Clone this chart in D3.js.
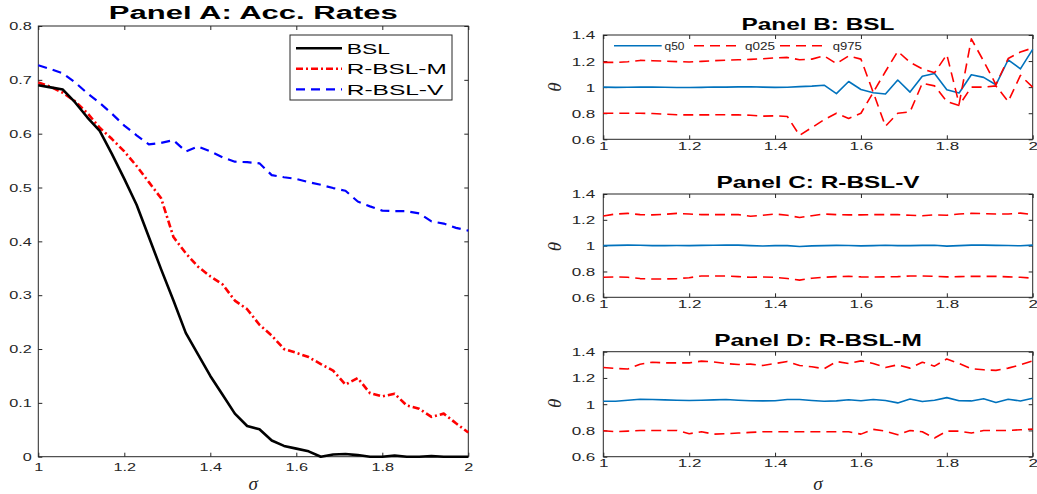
<!DOCTYPE html>
<html><head><meta charset="utf-8">
<script src="https://cdn.jsdelivr.net/npm/d3@7"></script>
<style>body{margin:0;background:#fff}svg{display:block}</style>
</head><body>
<svg id="c" width="1037" height="494"></svg>
<script>
// ---------------- data ----------------
const sigma = [1, 1.0286, 1.0571, 1.0857, 1.1143, 1.1429, 1.1714, 1.2, 1.2286, 1.2571, 1.2857, 1.3143,
  1.3429, 1.3714, 1.4, 1.4286, 1.4571, 1.4857, 1.5143, 1.5429, 1.5714, 1.6, 1.6286, 1.6571,
  1.6857, 1.7143, 1.7429, 1.7714, 1.8, 1.8286, 1.8571, 1.8857, 1.9143, 1.9429, 1.9714, 2];

// Panel A: acceptance rates
const accBSL = [0.690, 0.686, 0.682, 0.658, 0.630, 0.605, 0.562, 0.516, 0.468, 0.408, 0.348, 0.290,
  0.230, 0.190, 0.150, 0.115, 0.080, 0.057, 0.051, 0.030, 0.020, 0.015, 0.010, 0.000,
  0.004, 0.005, 0.003, 0.000, 0.000, 0.002, 0.000, 0.000, 0.001, 0.000, 0.000, 0.000];
const accRBSLM = [0.695, 0.687, 0.676, 0.660, 0.638, 0.611, 0.590, 0.567, 0.540, 0.510, 0.480, 0.408,
  0.378, 0.353, 0.335, 0.320, 0.290, 0.274, 0.245, 0.225, 0.200, 0.193, 0.185, 0.172,
  0.160, 0.134, 0.146, 0.118, 0.112, 0.117, 0.095, 0.089, 0.074, 0.080, 0.062, 0.045];
const accRBSLV = [0.727, 0.720, 0.712, 0.695, 0.675, 0.657, 0.637, 0.615, 0.597, 0.580, 0.583, 0.588,
  0.567, 0.576, 0.567, 0.556, 0.548, 0.547, 0.545, 0.523, 0.519, 0.516, 0.510, 0.505,
  0.499, 0.494, 0.474, 0.465, 0.457, 0.456, 0.456, 0.452, 0.437, 0.433, 0.425, 0.420];

// Panel B: BSL quantiles of theta
const bslQ50 = [1.000, 0.998, 0.999, 1.000, 1.000, 0.999, 0.997, 0.997, 0.998, 1.001, 1.000, 1.002,
  1.003, 1.000, 0.998, 0.999, 1.004, 1.008, 1.015, 0.950, 1.043, 0.982, 0.957, 0.947,
  1.055, 0.962, 1.083, 1.105, 0.980, 0.955, 1.095, 1.075, 1.018, 1.210, 1.140, 1.290];
const bslQ025 = [0.800, 0.800, 0.800, 0.800, 0.798, 0.793, 0.788, 0.787, 0.787, 0.788, 0.788, 0.787,
  0.785, 0.778, 0.780, 0.775, 0.630, 0.690, 0.750, 0.800, 0.760, 0.800, 0.960, 1.120,
  1.275, 1.190, 1.140, 1.110, 1.250, 0.870, 1.370, 1.200, 1.020, 1.220, 1.270, 1.300];
const bslQ975 = [1.190, 1.190, 1.195, 1.205, 1.203, 1.200, 1.196, 1.193, 1.198, 1.203, 1.207, 1.210,
  1.213, 1.218, 1.225, 1.228, 1.210, 1.215, 1.240, 1.180, 1.240, 1.215, 0.960, 0.700,
  0.800, 0.810, 1.030, 1.010, 0.890, 0.860, 1.000, 1.000, 1.010, 0.890, 1.090, 1.000];

// Panel C: R-BSL-V quantiles
const rbslvQ50 = [1.000, 1.002, 1.004, 1.003, 1.000, 1.000, 1.001, 1.000, 1.002, 1.003, 1.004, 1.004,
  1.000, 0.997, 1.000, 1.000, 0.993, 0.998, 1.000, 1.002, 1.001, 0.998, 1.000, 1.003,
  1.000, 1.000, 1.002, 1.003, 0.996, 1.000, 1.004, 1.004, 1.002, 1.001, 0.999, 1.004];
const rbslvQ025 = [0.755, 0.758, 0.755, 0.745, 0.742, 0.742, 0.745, 0.752, 0.765, 0.765, 0.765, 0.760,
  0.755, 0.757, 0.755, 0.745, 0.733, 0.748, 0.755, 0.760, 0.762, 0.758, 0.757, 0.758,
  0.760, 0.765, 0.765, 0.762, 0.758, 0.760, 0.762, 0.762, 0.762, 0.758, 0.755, 0.748];
const rbslvQ975 = [1.230, 1.245, 1.250, 1.240, 1.238, 1.243, 1.250, 1.245, 1.240, 1.240, 1.240, 1.240,
  1.228, 1.235, 1.245, 1.235, 1.218, 1.232, 1.245, 1.240, 1.238, 1.238, 1.240, 1.240,
  1.240, 1.235, 1.232, 1.238, 1.235, 1.245, 1.250, 1.248, 1.245, 1.245, 1.252, 1.240];

// Panel D: R-BSL-M quantiles
const rbslmQ50 = [1.022, 1.022, 1.030, 1.038, 1.036, 1.033, 1.030, 1.028, 1.030, 1.033, 1.036, 1.030,
  1.026, 1.025, 1.026, 1.036, 1.036, 1.028, 1.022, 1.025, 1.034, 1.026, 1.036, 1.028,
  1.010, 1.040, 1.020, 1.030, 1.050, 1.026, 1.025, 1.042, 1.013, 1.038, 1.025, 1.045];
const rbslmQ025 = [0.798, 0.790, 0.795, 0.800, 0.800, 0.800, 0.800, 0.775, 0.790, 0.772, 0.775, 0.780,
  0.785, 0.790, 0.790, 0.790, 0.790, 0.790, 0.790, 0.790, 0.790, 0.772, 0.808, 0.795,
  0.767, 0.800, 0.790, 0.742, 0.795, 0.795, 0.780, 0.800, 0.800, 0.800, 0.805, 0.810];
const rbslmQ975 = [1.280, 1.272, 1.268, 1.305, 1.320, 1.315, 1.315, 1.315, 1.328, 1.322, 1.310, 1.302,
  1.305, 1.295, 1.310, 1.325, 1.295, 1.285, 1.270, 1.325, 1.310, 1.330, 1.310, 1.280,
  1.300, 1.275, 1.320, 1.290, 1.345, 1.310, 1.270, 1.262, 1.258, 1.275, 1.300, 1.330];

const sigmaTicks = [1, 1.2, 1.4, 1.6, 1.8, 2];
const accTicks = [0, 0.1, 0.2, 0.3, 0.4, 0.5, 0.6, 0.7, 0.8];
const thetaTicks = [0.6, 0.8, 1, 1.2, 1.4];
const accLegend = ["BSL", "R-BSL-M", "R-BSL-V"];
const qLegend = ["q50", "q025", "q975"];
const titles = ["Panel A: Acc. Rates", "Panel B: BSL", "Panel C: R-BSL-V", "Panel D: R-BSL-M"];

// ---------------- drawing ----------------
const svg = d3.select("#c");
const AX = "#262626";
const SANS = "'Liberation Sans', Arial, Helvetica, sans-serif";
const SERIF = "'Liberation Serif', 'Times New Roman', serif";
const SX = 1.55;

function makePanel(o) {
  const x = d3.scaleLinear().domain([1, 2]).range([o.x0, o.x1]);
  const y = d3.scaleLinear().domain(o.yDomain).range([o.y1, o.y0]);
  const g = svg.append("g");
  const fmt = d3.format("~g");
  const tk = 4;
  const gx = g.append("g").attr("transform", `translate(0,${o.y1})`)
    .call(d3.axisBottom(x).tickValues(sigmaTicks).tickSizeInner(-tk).tickSizeOuter(0).tickFormat(fmt));
  const gxt = g.append("g").attr("transform", `translate(0,${o.y0})`)
    .call(d3.axisTop(x).tickValues(sigmaTicks).tickSizeInner(-tk).tickSizeOuter(0).tickFormat(""));
  const gy = g.append("g").attr("transform", `translate(${o.x0},0)`)
    .call(d3.axisLeft(y).tickValues(o.yTicks).tickSizeInner(-tk).tickSizeOuter(0).tickFormat(fmt));
  const gyr = g.append("g").attr("transform", `translate(${o.x1},0)`)
    .call(d3.axisRight(y).tickValues(o.yTicks).tickSizeInner(-tk).tickSizeOuter(0).tickFormat(""));
  [gx, gxt, gy, gyr].forEach(a => {
    a.select(".domain").remove();
    a.selectAll("line").attr("stroke", AX).attr("stroke-width", 1);
  });
  gx.selectAll("text").attr("y", 0).attr("dy", "0.71em")
    .attr("transform", `translate(0,${o.xLabGap}) scale(${SX},1)`)
    .attr("font-family", SANS).attr("font-size", o.fs).attr("fill", AX);
  gy.selectAll("text").attr("x", 0).attr("dy", "0.36em")
    .attr("transform", `translate(${-o.yLabGap},0) scale(${SX},1)`)
    .attr("font-family", SANS).attr("font-size", o.fs).attr("fill", AX);
  g.append("rect").attr("x", o.x0).attr("y", o.y0).attr("width", o.x1 - o.x0).attr("height", o.y1 - o.y0)
    .attr("fill", "none").attr("stroke", AX).attr("stroke-width", 1);
  // title
  g.append("text").attr("x", (o.x0 + o.x1) / 2 - o.titleW / 2).attr("y", o.titleY)
    .attr("textLength", o.titleW).attr("lengthAdjust", "spacingAndGlyphs")
    .attr("font-family", SANS).attr("font-weight", "bold").attr("font-size", o.titleFs)
    .attr("fill", "#000").text(o.title);
  const plot = g.append("g");
  return { x, y, g, plot };
}

function drawLine(p, vals, color, width, dash) {
  const line = d3.line().x((d, i) => p.x(sigma[i])).y(d => p.y(d));
  p.plot.append("path").datum(vals).attr("d", line).attr("fill", "none")
    .attr("stroke", color).attr("stroke-width", width)
    .attr("stroke-dasharray", dash || null).attr("stroke-linejoin", "round");
}

// Panel A
const pA = makePanel({ x0: 38.3, x1: 468.3, y0: 26, y1: 456.7, yDomain: [0, 0.8], yTicks: accTicks,
  fs: 10.5, xLabGap: 7, yLabGap: 6.5, title: titles[0], titleW: 289, titleY: 18.5, titleFs: 18 });
drawLine(pA, accRBSLV, "#0000ff", 2.2, "9,6");
drawLine(pA, accRBSLM, "#ff0000", 2.6, "7,3,2,3");
drawLine(pA, accBSL, "#000000", 2.6, null);

// legend A
const legA = svg.append("g");
legA.append("rect").attr("x", 290).attr("y", 35).attr("width", 162).attr("height", 65)
  .attr("fill", "#fff").attr("stroke", AX).attr("stroke-width", 1);
const legAStyle = [["#000", null, 2.6, 43.3], ["#ff0000", "7,3,2,3", 2.6, 100], ["#0000ff", "9,6", 2.2, 96.7]];
accLegend.forEach((t, i) => {
  const yy = 48.3 + i * 20.5;
  legA.append("line").attr("x1", 296).attr("x2", 342).attr("y1", yy).attr("y2", yy)
    .attr("stroke", legAStyle[i][0]).attr("stroke-width", legAStyle[i][2]).attr("stroke-dasharray", legAStyle[i][1]);
  legA.append("text").attr("x", 346.7).attr("y", yy + 5.6).attr("textLength", legAStyle[i][3])
    .attr("lengthAdjust", "spacingAndGlyphs").attr("font-family", SANS).attr("font-size", 15)
    .attr("fill", "#000").text(t);
});

// Panels B, C, D
const small = [
  { y0: 35, y1: 139.3, title: titles[1], titleW: 153, titleY: 29.5, q50: bslQ50, q025: bslQ025, q975: bslQ975, thY: 87 },
  { y0: 194, y1: 297.3, title: titles[2], titleW: 203, titleY: 188, q50: rbslvQ50, q025: rbslvQ025, q975: rbslvQ975, thY: 246.7 },
  { y0: 351.7, y1: 456.7, title: titles[3], titleW: 207.7, titleY: 345.5, q50: rbslmQ50, q025: rbslmQ025, q975: rbslmQ975, thY: 403.3 }
];
const BLUE = "#0072BD";
small.forEach((s, k) => {
  const p = makePanel({ x0: 603.3, x1: 1032.7, y0: s.y0, y1: s.y1, yDomain: [0.6, 1.4], yTicks: thetaTicks,
    fs: 11, xLabGap: 2.8, yLabGap: 8, title: s.title, titleW: s.titleW, titleY: s.titleY, titleFs: 17 });
  drawLine(p, s.q50, BLUE, 1.6, null);
  drawLine(p, s.q025, "#ff0000", 1.6, "10,6");
  drawLine(p, s.q975, "#ff0000", 1.6, "10,6");
  svg.append("text").attr("transform", `translate(561,${s.thY}) rotate(-90)`)
    .attr("text-anchor", "middle").attr("font-family", SERIF).attr("font-style", "italic")
    .attr("font-size", 19).attr("fill", AX).text("θ");
});

// legend B
const legB = svg.append("g");
const legBItems = [
  { x1: 614, x2: 661.7, tx: 664.5, tw: 20, color: BLUE, dash: null },
  { x1: 694, x2: 740.7, tx: 745, tw: 30, color: "#ff0000", dash: "10,6" },
  { x1: 780, x2: 828, tx: 832.7, tw: 29, color: "#ff0000", dash: "10,6" }
];
qLegend.forEach((t, i) => {
  const it = legBItems[i];
  legB.append("line").attr("x1", it.x1).attr("x2", it.x2).attr("y1", 45.7).attr("y2", 45.7)
    .attr("stroke", it.color).attr("stroke-width", 1.6).attr("stroke-dasharray", it.dash);
  legB.append("text").attr("x", it.tx).attr("y", 49.8).attr("textLength", it.tw)
    .attr("lengthAdjust", "spacingAndGlyphs").attr("font-family", SANS).attr("font-size", 10.5)
    .attr("fill", AX).text(t);
});

// sigma labels
[[253.3, 490], [818, 490]].forEach(([cx, cy]) => {
  svg.append("text").attr("x", cx).attr("y", cy).attr("text-anchor", "middle")
    .attr("font-family", SERIF).attr("font-style", "italic").attr("font-size", 19)
    .attr("fill", AX).text("σ");
});
</script>
</body></html>
